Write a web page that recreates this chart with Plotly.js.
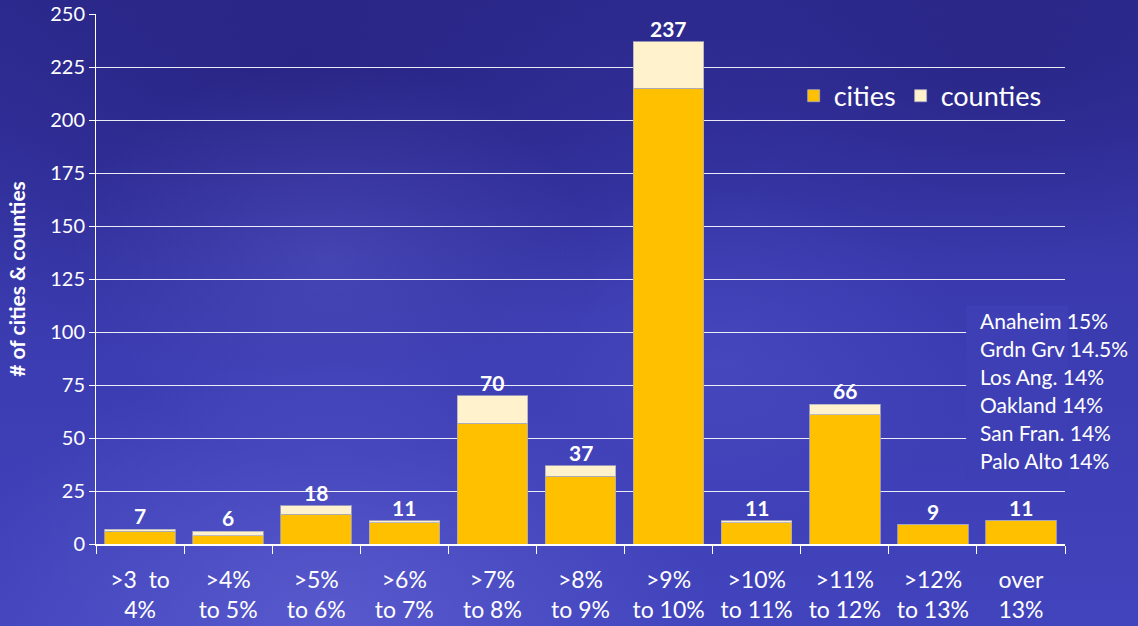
<!DOCTYPE html>
<html>
<head>
<meta charset="utf-8">
<script src="https://cdn.plot.ly/plotly-3.0.1.min.js"></script>
<style>
html,body{margin:0;padding:0;width:1138px;height:626px;overflow:hidden;}
body{background:
 radial-gradient(ellipse 380px 260px at 330px 620px, rgba(110,110,220,0.5), rgba(110,110,220,0) 100%),
 radial-gradient(ellipse 260px 200px at 330px 260px, rgba(100,100,215,0.35), rgba(100,100,215,0) 100%),
 radial-gradient(ellipse 250px 170px at 720px 360px, rgba(90,90,210,0.35), rgba(90,90,210,0) 100%),
 radial-gradient(ellipse 500px 300px at 300px 80px, rgba(35,30,120,0.6), rgba(35,30,120,0) 100%),
 radial-gradient(ellipse 400px 200px at 1000px 60px, rgba(35,30,120,0.5), rgba(35,30,120,0) 100%),
 linear-gradient(180deg, #2e2c92 0%, #3a3aae 45%, #4244bd 100%);}
#chart{width:1138px;height:626px;}
</style>
</head>
<body>
<div id="chart"></div>
<script>
var categories = [">3  to<br>4%", ">4%<br>to 5%", ">5%<br>to 6%", ">6%<br>to 7%", ">7%<br>to 8%", ">8%<br>to 9%", ">9%<br>to 10%", ">10%<br>to 11%", ">11%<br>to 12%", ">12%<br>to 13%", "over<br>13%"];
var cities =   [6, 4, 14, 10, 57, 32, 215, 10, 61, 9, 11];
var counties = [1, 2,  4,  1, 13,  5,  22,  1,  5, 0,  0];
var totals = [7, 6, 18, 11, 70, 37, 237, 11, 66, 9, 11];
var noteLines = ["Anaheim 15%", "Grdn Grv 14.5%", "Los Ang. 14%", "Oakland 14%", "San Fran. 14%", "Palo Alto 14%"];
var yTickVals = [0, 25, 50, 75, 100, 125, 150, 175, 200, 225, 250];

var FONT = "Lato, 'Open Sans', sans-serif";
var barLine = {color: 'rgba(170,170,190,0.8)', width: 1};

var traces = [
  {type: 'bar', name: 'cities', x: categories, y: cities,
   marker: {color: '#FFC000', line: barLine}, hoverinfo: 'y'},
  {type: 'bar', name: 'counties', x: categories, y: counties,
   marker: {color: '#FFF2CC', line: barLine}, hoverinfo: 'y'}
];

var annotations = categories.map(function(c, i){
  return {x: c, y: totals[i], xref: 'x', yref: 'y', text: '<b>' + totals[i] + '</b>',
    showarrow: false, yanchor: 'bottom', yshift: -1,
    font: {family: FONT, size: 21, color: '#ffffff'}};
});
noteLines.forEach(function(t, i){
  annotations.push({x: 0.91, xref: 'paper', y: 0.4226 - i * 0.053, yref: 'paper',
    text: t, showarrow: false, xanchor: 'left', yanchor: 'middle',
    font: {family: FONT, size: 21, color: '#ffffff'}});
});

var layout = {
  width: 1138, height: 626,
  margin: {l: 96, r: 73, t: 14, b: 82},
  paper_bgcolor: 'rgba(0,0,0,0)',
  plot_bgcolor: 'rgba(0,0,0,0)',
  barmode: 'stack',
  bargap: 0.2,
  showlegend: true,
  legend: {orientation: 'h', x: 0.72, xanchor: 'left', y: 0.845, yanchor: 'middle',
    bgcolor: 'rgba(0,0,0,0)', font: {family: FONT, size: 27, color: '#ffffff'},
    itemwidth: 30, traceorder: 'normal'},
  font: {family: FONT, color: '#ffffff'},
  shapes: [
    {type: 'rect', xref: 'paper', yref: 'paper', x0: 0.898, x1: 1.003, y0: 0.12, y1: 0.45,
     layer: 'above', line: {width: 0}, fillcolor: '#3e3fb4'}
  ],
  xaxis: {
    type: 'category',
    tickson: 'boundaries',
    ticks: 'outside', ticklen: 8, tickcolor: '#ffffff', tickwidth: 1,
    showline: true, linecolor: '#ffffff', linewidth: 2,
    showgrid: false,
    ticklabelstandoff: 14,
    tickfont: {family: FONT, size: 23, color: '#ffffff'},
    range: [-0.5, 10.5]
  },
  yaxis: {
    range: [0, 250],
    tickvals: yTickVals,
    ticks: 'outside', ticklen: 6, tickcolor: '#ffffff',
    showline: true, linecolor: '#ffffff', linewidth: 1,
    showgrid: true, gridcolor: 'rgba(255,255,255,0.9)', gridwidth: 1,
    zeroline: false,
    tickfont: {family: FONT, size: 20, color: '#ffffff'},
    title: {text: '<b># of cities & counties</b>', font: {family: FONT, size: 21, color: '#ffffff'}, standoff: 18}
  },
  annotations: annotations
};

Plotly.newPlot('chart', traces, layout, {displayModeBar: false, staticPlot: true});
</script>
</body>
</html>
